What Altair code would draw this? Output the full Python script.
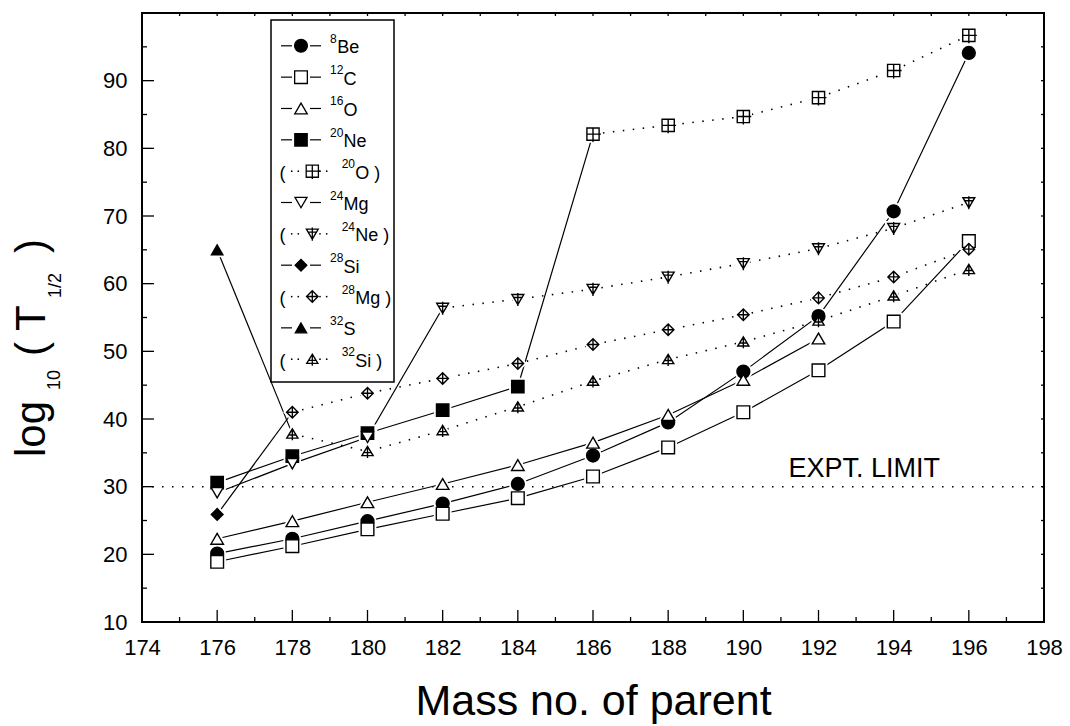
import altair as alt
import pandas as pd

FONT = "Liberation Sans"
W, H = 902, 609

# ---------------- data ----------------
be8_mass = [176, 178, 180, 182, 184, 186, 188, 190, 192, 194, 196]
be8_vals = [20.1, 22.3, 24.9, 27.5, 30.4, 34.6, 39.5, 47.0, 55.2, 70.7, 94.1]

c12_mass = [176, 178, 180, 182, 184, 186, 188, 190, 192, 194, 196]
c12_vals = [18.9, 21.2, 23.7, 26.0, 28.3, 31.5, 35.8, 41.0, 47.2, 54.4, 66.3]

o16_mass = [176, 178, 180, 182, 184, 186, 188, 190, 192]
o16_vals = [22.3, 24.9, 27.7, 30.4, 33.2, 36.5, 40.6, 45.8, 51.9]

ne20_mass = [176, 178, 180, 182, 184]
ne20_vals = [30.6, 34.5, 37.9, 41.3, 44.8]

o20_mass = [186, 188, 190, 192, 194, 196]
o20_vals = [82.1, 83.4, 84.7, 87.5, 91.5, 96.7]

mg24_mass = [176, 178, 180]
mg24_vals = [29.1, 33.4, 37.3]

ne24_mass = [182, 184, 186, 188, 190, 192, 194, 196]
ne24_vals = [56.4, 57.7, 59.2, 61.0, 63.0, 65.2, 68.2, 72.0]

si28_mass = [176]
si28_vals = [25.9]

mg28_mass = [178, 180, 182, 184, 186, 188, 190, 192, 194, 196]
mg28_vals = [41.0, 43.8, 46.0, 48.2, 51.0, 53.2, 55.4, 57.9, 61.0, 65.1]

s32_mass = [176]
s32_vals = [65.0]

si32_mass = [178, 180, 182, 184, 186, 188, 190, 192, 194, 196]
si32_vals = [37.8, 35.2, 38.3, 41.8, 45.6, 48.8, 51.4, 54.5, 58.2, 62.1]

series_keys = ["Be8", "C12", "O16", "Ne20", "O20", "Mg24", "Ne24", "Si28", "Mg28", "S32", "Si32"]
sup_labels = ["8", "12", "16", "20", "20", "24", "24", "28", "28", "32", "32"]
elem_labels = ["Be", "C", "O", "Ne", "O", "Mg", "Ne", "Si", "Mg", "S", "Si"]
dotted_flags = [False, False, False, False, True, False, True, False, True, False, True]
partners = {"Ne20": "O20", "Mg24": "Ne24", "Si28": "Mg28", "S32": "Si32"}

series_data = {
    "Be8": (be8_mass, be8_vals), "C12": (c12_mass, c12_vals), "O16": (o16_mass, o16_vals),
    "Ne20": (ne20_mass, ne20_vals), "O20": (o20_mass, o20_vals),
    "Mg24": (mg24_mass, mg24_vals), "Ne24": (ne24_mass, ne24_vals),
    "Si28": (si28_mass, si28_vals), "Mg28": (mg28_mass, mg28_vals),
    "S32": (s32_mass, s32_vals), "Si32": (si32_mass, si32_vals),
}

expt_limit = 30
expt_text = "EXPT. LIMIT"
expt_text_mass, expt_text_val = 191.2, 31.5

x_ticks = list(range(174, 199, 2))
y_ticks = list(range(10, 91, 10))

# ---------------- styles ----------------
SQ_CROSS = "M-1,-1L1,-1L1,1L-1,1Z M0,-1L0,1.3 M-1,0L1.3,0"
TRI_DOWN_CROSS = "M-1,-0.8L1,-0.8L0,0.9Z M0,-1.05L0,1.15 M-0.72,-0.3L0.72,-0.3"
DIA_CROSS = "M-1,0L0,-1L1,0L0,1Z M-1,0L1,0 M0,-1L0,1"
TRI_UP_CROSS = "M0,-0.9L1,0.75L-1,0.75Z M0,-0.9L0,1.15 M-0.62,0.2L0.62,0.2"

shape_range = ["circle", "square", "triangle-up", "square", SQ_CROSS, "triangle-down",
               TRI_DOWN_CROSS, "diamond", DIA_CROSS, "triangle-up", TRI_UP_CROSS]
fill_range = ["black", "white", "white", "black", "white", "white",
              "white", "black", "white", "black", "white"]
size_range = [165, 125, 250, 125, 140, 225, 262, 250, 240, 270, 262]

shape_scale = alt.Scale(domain=series_keys, range=shape_range)
fill_scale = alt.Scale(domain=series_keys, range=fill_range)
size_scale = alt.Scale(domain=series_keys, range=size_range)

xs = alt.Scale(domain=[174, 198], nice=False, zero=False)
ys = alt.Scale(domain=[10, 100], nice=False, zero=False)

x_axis = alt.Axis(values=x_ticks, title="Mass no. of parent", grid=False, domain=False,
                  ticks=False, labelFontSize=22, labelPadding=15, labelFlush=False,
                  labelOverlap=False, titleFontSize=43, titleFontWeight="normal",
                  titlePadding=22, labelFont=FONT, titleFont=FONT,
                  labelColor="black", titleColor="black")
y_axis = alt.Axis(values=y_ticks, title=None, grid=False, domain=False, ticks=False,
                  labelFontSize=22, labelPadding=15, labelFont=FONT,
                  labelColor="black", labelFlush=False, labelOverlap=False)

X = alt.X("mass:Q", scale=xs, axis=x_axis)
Y = alt.Y("value:Q", scale=ys, axis=y_axis)

# ---------------- tables ----------------
pts = []
for k in series_keys:
    m, v = series_data[k]
    for a, b in zip(m, v):
        pts.append({"series": k, "mass": a, "value": b})
pts = pd.DataFrame(pts)

solid_rows, dotted_rows = [], []
for k, dotted in zip(series_keys, dotted_flags):
    m, v = series_data[k]
    rows = [{"series": k, "mass": a, "value": b} for a, b in zip(m, v)]
    if dotted:
        dotted_rows += rows
    else:
        if k in partners:
            pm, pv = series_data[partners[k]]
            rows.append({"series": k, "mass": pm[0], "value": pv[0]})
        solid_rows += rows
solid_df = pd.DataFrame(solid_rows)
dotted_df = pd.DataFrame(dotted_rows)

# ---------------- main layers ----------------
expt_rule = alt.Chart(pd.DataFrame({"mass": [174.0], "mass2": [198.0], "value": [expt_limit]})).mark_rule(
    color="black", strokeWidth=1.5, strokeDash=[1.5, 8.5]
).encode(x=X, x2="mass2:Q", y=Y)

expt_label = alt.Chart(pd.DataFrame({"mass": [expt_text_mass], "value": [expt_text_val], "t": [expt_text]})).mark_text(
    align="left", baseline="alphabetic", fontSize=27, font=FONT, color="black"
).encode(x=X, y=Y, text="t:N")

solid_lines = alt.Chart(solid_df).mark_line(color="black", strokeWidth=1.2).encode(
    x=X, y=Y, detail="series:N", order="mass:Q")

dotted_lines = alt.Chart(dotted_df).mark_line(color="black", strokeWidth=1.6, strokeDash=[1.5, 8.5]).encode(
    x=X, y=Y, detail="series:N", order="mass:Q")

halo = alt.Chart(pts).mark_point(filled=True, opacity=1, stroke="white", strokeWidth=5).encode(
    x=X, y=Y,
    shape=alt.Shape("series:N", scale=shape_scale, legend=None),
    size=alt.Size("series:N", scale=size_scale, legend=None),
    fill=alt.value("white"),
)

markers = alt.Chart(pts).mark_point(filled=True, opacity=1, stroke="black", strokeWidth=1.4).encode(
    x=X, y=Y,
    shape=alt.Shape("series:N", scale=shape_scale, legend=None),
    size=alt.Size("series:N", scale=size_scale, legend=None),
    fill=alt.Fill("series:N", scale=fill_scale, legend=None),
)

# ---------------- frame and inward ticks ----------------
frame = alt.Chart(pd.DataFrame({"a": [0]})).mark_rect(fill=None, stroke="black", strokeWidth=2).encode(
    x=alt.value(0), x2=alt.value(W), y=alt.value(0), y2=alt.value(H))

def xticks(vals, y0, y1):
    return alt.Chart(pd.DataFrame({"mass": vals})).mark_rule(color="black", strokeWidth=1.3).encode(
        x=X, y=alt.value(y0), y2=alt.value(y1))

def yticks(vals, x0, x1):
    return alt.Chart(pd.DataFrame({"value": vals})).mark_rule(color="black", strokeWidth=1.3).encode(
        y=Y, x=alt.value(x0), x2=alt.value(x1))

tick_layers = [
    xticks(x_ticks, H, H - 12),
    xticks(list(range(175, 198, 2)), H, H - 5),
    xticks(list(range(175, 198)), 0, 3),
    yticks(list(range(10, 101, 10)), 0, 12),
    yticks(list(range(15, 100, 10)), 0, 5),
    yticks(list(range(15, 100, 5)), W, W - 3),
]

# ---------------- legend (pixel layout) ----------------
seg_rows, dot_rows, mk_rows, sup_rows, el_rows = [], [], [], [], []
for i, (k, sup, el, dotted) in enumerate(zip(series_keys, sup_labels, elem_labels, dotted_flags)):
    base = 40.3 + 31.34 * i
    my = base - 7.5
    if dotted:
        mx = 170.3
        for dx in [149.7, 156.3, 178.0, 184.7]:
            dot_rows.append({"px": dx, "py": my})
        sx = 199.7
        el_rows.append({"px": 137.5, "py": base, "t": "("})
        label = el + " )"
    else:
        mx = 159.0
        seg_rows.append({"px": 139.0, "px2": 150.0, "py": my})
        seg_rows.append({"px": 168.0, "px2": 179.0, "py": my})
        sx = 188.0
        label = el
    mk_rows.append({"series": k, "px": mx, "py": my})
    sup_rows.append({"px": sx, "py": base - 10.5, "t": sup})
    el_rows.append({"px": sx + 6.4 * len(sup) + 0.8, "py": base, "t": label})

LX = lambda f: alt.X(f, scale=None, axis=None)
LY = lambda f: alt.Y(f, scale=None, axis=None)

leg_box = alt.Chart(pd.DataFrame({"a": [0]})).mark_rect(fill="white", stroke="black", strokeWidth=1.5).encode(
    x=alt.value(129), x2=alt.value(252), y=alt.value(7), y2=alt.value(369))
leg_segs = alt.Chart(pd.DataFrame(seg_rows)).mark_rule(color="black", strokeWidth=1.2).encode(
    x=LX("px:Q"), x2="px2:Q", y=LY("py:Q"))
leg_dots = alt.Chart(pd.DataFrame(dot_rows)).mark_point(filled=True, opacity=1, color="black", size=3, shape="circle").encode(
    x=LX("px:Q"), y=LY("py:Q"))
leg_marks = alt.Chart(pd.DataFrame(mk_rows)).mark_point(filled=True, opacity=1, stroke="black", strokeWidth=1.3).encode(
    x=LX("px:Q"), y=LY("py:Q"),
    shape=alt.Shape("series:N", scale=shape_scale, legend=None),
    size=alt.Size("series:N", scale=size_scale, legend=None),
    fill=alt.Fill("series:N", scale=fill_scale, legend=None))
leg_sup = alt.Chart(pd.DataFrame(sup_rows)).mark_text(align="left", baseline="alphabetic", fontSize=12, font=FONT, color="black").encode(
    x=LX("px:Q"), y=LY("py:Q"), text="t:N")
leg_el = alt.Chart(pd.DataFrame(el_rows)).mark_text(align="left", baseline="alphabetic", fontSize=18, font=FONT, color="black").encode(
    x=LX("px:Q"), y=LY("py:Q"), text="t:N")

# ---------------- y title with subscripts ----------------
ytitle_df = pd.DataFrame([
    {"t": "log", "px": -97, "py": 444, "fs": 42},
    {"t": "10", "px": -82, "py": 377, "fs": 18},
    {"t": "( T", "px": -97, "py": 343, "fs": 42},
    {"t": "1/2", "px": -81, "py": 285, "fs": 18},
    {"t": ")", "px": -97, "py": 240, "fs": 42},
])
ytitle = alt.Chart(ytitle_df).mark_text(angle=270, align="left", baseline="alphabetic", font=FONT, color="black").encode(
    x=LX("px:Q"), y=LY("py:Q"), text="t:N", size=alt.Size("fs:Q", scale=None, legend=None))

chart = alt.layer(
    expt_rule, expt_label, solid_lines, dotted_lines, halo, markers, frame, *tick_layers,
    leg_box, leg_segs, leg_dots, leg_marks, leg_sup, leg_el, ytitle
).properties(
    width=W, height=H,
    padding={"left": 142, "top": 13, "right": 26, "bottom": 104},
    autosize=alt.AutoSizeParams(type="none"),
).configure_view(stroke=None).configure(background="white")

chart.save("out.html", embed_options={"renderer": "svg", "actions": False})
